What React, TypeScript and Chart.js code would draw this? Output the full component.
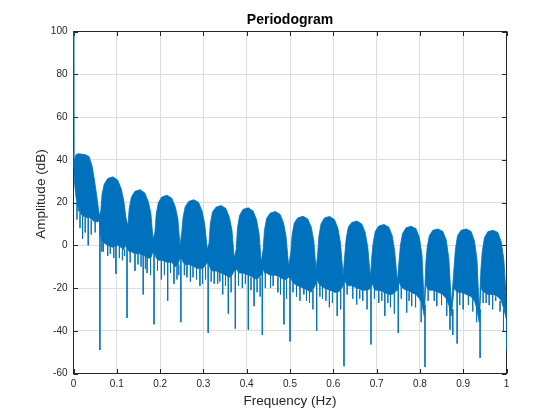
import React, { useEffect, useRef } from "react";
import { Chart, registerables } from "chart.js";

Chart.register(...registerables);

const FONT = '"Liberation Sans", Arial, Helvetica, sans-serif';
const BLUE = "#0072BD";
const AXIS = "#262626";
const GRID = "#dedede";

const chartTitle = "Periodogram";
const xTitle = "Frequency (Hz)";
const yTitle = "Amplitude (dB)";

const xTickValues = [0, 0.1, 0.2, 0.3, 0.4, 0.5, 0.6, 0.7, 0.8, 0.9, 1];
const xTickLabels = ["0", "0.1", "0.2", "0.3", "0.4", "0.5", "0.6", "0.7", "0.8", "0.9", "1"];
const yTickValues = [-60, -40, -20, 0, 20, 40, 60, 80, 100];
const yTickLabels = ["-60", "-40", "-20", "0", "20", "40", "60", "80", "100"];

// Envelope of the periodogram (upper edge and lower body edge)
const freqHz = [
  0, 0.0008, 0.002, 0.006, 0.012, 0.02, 0.028, 0.036, 0.043, 0.048, 0.053, 0.057, 0.0595,
  0.063, 0.066, 0.071, 0.079, 0.091, 0.102, 0.11, 0.116, 0.121,
  0.1256, 0.1286, 0.1336, 0.1416, 0.1536, 0.1646, 0.1726, 0.1786, 0.1836,
  0.188, 0.191, 0.196, 0.204, 0.216, 0.227, 0.235, 0.241, 0.246,
  0.25, 0.253, 0.258, 0.266, 0.278, 0.289, 0.297, 0.303, 0.309,
  0.313, 0.316, 0.321, 0.329, 0.341, 0.352, 0.36, 0.366, 0.371,
  0.3757, 0.3787, 0.3837, 0.3917, 0.4037, 0.4147, 0.4227, 0.4287, 0.4337,
  0.438, 0.441, 0.446, 0.454, 0.466, 0.477, 0.485, 0.491, 0.497,
  0.502, 0.505, 0.51, 0.518, 0.53, 0.541, 0.549, 0.555, 0.56,
  0.5636, 0.5666, 0.5716, 0.5796, 0.5916, 0.6026, 0.6106, 0.6166, 0.6226,
  0.6267, 0.6297, 0.6347, 0.6427, 0.6547, 0.6657, 0.6737, 0.6797, 0.6857,
  0.689, 0.692, 0.697, 0.705, 0.717, 0.728, 0.736, 0.742, 0.748,
  0.752, 0.755, 0.76, 0.768, 0.78, 0.791, 0.799, 0.805, 0.81,
  0.8138, 0.8168, 0.8218, 0.8298, 0.8418, 0.8528, 0.8608, 0.8668, 0.8728,
  0.879, 0.882, 0.887, 0.895, 0.907, 0.918, 0.926, 0.932, 0.937,
  0.941, 0.944, 0.949, 0.957, 0.969, 0.98, 0.988, 0.994, 1.0,
];

const upperDb = [
  100, 36, 40, 42.5, 42.8, 42.6, 42.3, 41.5, 37, 31, 24, 18, 14,
  16, 24, 28.5, 31.2, 32, 30.5, 26.5, 21, 13,
  9, 17, 22.5, 25.2, 26, 24.5, 20.5, 15, 3,
  6, 14.5, 20, 22.6, 23.4, 22, 18, 12.5, 0,
  6, 13, 18, 20.5, 21.3, 20, 16, 10, -2,
  1, 10, 15.5, 17.8, 18.6, 17.2, 13, 7, -6,
  -2, 8, 14, 16.8, 17.5, 16, 12, 5, -8,
  -2, 7, 12.5, 15, 15.8, 14.5, 10.5, 4, -10,
  -3, 5, 10.5, 12.8, 13.6, 12.3, 8.5, 2, -11,
  -5, 4, 10, 12.8, 13.5, 12, 8, 1, -14,
  -4, 3, 8.5, 10.7, 11.3, 10, 6, -1, -15,
  -5, 1, 6.5, 9, 9.7, 8.5, 4.5, -3, -17,
  -7, 0, 5.5, 8.2, 8.9, 7.7, 3.5, -5, -28,
  -8, -1, 4.5, 7, 7.6, 6.5, 2.5, -6, -28,
  -10, -2, 4.5, 7, 7.6, 6.5, 2, -7, -31,
  -11, -3, 3.5, 6.4, 7, 6, 1.5, -7, -27,
];

const lowerDb = [
  35, 35, 30, 22, 16, 14, 13, 13, 12, 11, 11, 11, 12,
  4, 2, 1, 0, -1, 0, -1, -2, 0,
  -2, -3, -3, -4, -4, -5, -6, -6, -3,
  -4, -6, -7, -7, -8, -8, -10, -9, -6,
  -6, -8, -9, -9, -10, -11, -11, -10, -8,
  -9, -11, -12, -12, -13, -14, -15, -14, -12,
  -11, -12, -13, -13, -14, -15, -16, -15, -14,
  -11, -13, -13, -14, -14, -15, -16, -16, -15,
  -15, -17, -18, -19, -20, -21, -22, -20, -18,
  -16, -18, -19, -20, -21, -22, -22, -21, -19,
  -16, -18, -19, -19, -20, -21, -21, -21, -20,
  -18, -19, -21, -21, -22, -23, -23, -22, -21,
  -17, -19, -20, -21, -22, -23, -25, -28, -33,
  -18, -20, -21, -21, -22, -23, -25, -28, -33,
  -20, -21, -22, -22, -23, -24, -26, -30, -36,
  -20, -21, -22, -23, -23, -24, -26, -30, -35,
];

// Deep nulls and long dips
const spikeHz = [
  0.021, 0.034, 0.061, 0.0655, 0.079, 0.098, 0.106, 0.1236,
  0.142, 0.161, 0.17, 0.186, 0.203, 0.2175, 0.232, 0.248,
  0.262, 0.27, 0.292, 0.311, 0.325, 0.3446, 0.3575, 0.3737,
  0.39, 0.4037, 0.417, 0.436, 0.455, 0.472, 0.486, 0.5,
  0.515, 0.532, 0.545, 0.5616, 0.575, 0.591, 0.609, 0.6247,
  0.654, 0.668, 0.687, 0.705, 0.719, 0.732, 0.75,
  0.7695, 0.781, 0.8118, 0.839, 0.8695, 0.876, 0.886, 0.9, 0.939,
  0.96, 0.975, 1.0,
];
const spikeTopDb = [
  16, 14, 14, 4, 0, 0, 0, 3,
  -4, -4, -5, 0, -7, -8, -9, -2,
  -9, -9, -11, -5, -12, -13, -14, -8,
  -13, -14, -15, -10, -14, -15, -16, -12,
  -18, -20, -21, -14, -19, -21, -22, -15,
  -20, -21, -17, -21, -22, -23, -18,
  -21, -22, -28, -22, -28, -30, -21, -22, -30,
  -23, -24, -27,
];
const spikeBottomDb = [
  3, 0, -49, -3, -5, -13.4, -6, -34,
  -12, -23, -13, -37, -16, -26, -18, -36,
  -15, -17, -19, -41, -18, -23, -32, -39,
  -20, -39.5, -28.5, -42, -20, -22, -37, -45,
  -24, -23, -27, -40, -25, -29, -33, -56.6,
  -27.7, -26, -46.4, -27, -33, -29, -41,
  -31.5, -28.5, -57, -28.5, -39.5, -42, -46, -30, -52.7,
  -28, -26, -49,
];

// Short dips hanging below the body of each lobe
const dipHz = [
  0.008, 0.015, 0.027, 0.041, 0.05,
  0.069, 0.085, 0.093, 0.113, 0.118,
  0.131, 0.149, 0.156, 0.166, 0.178,
  0.194, 0.21, 0.224, 0.239, 0.243,
  0.256, 0.276, 0.284, 0.298, 0.305,
  0.318, 0.333, 0.338, 0.351, 0.364,
  0.381, 0.397, 0.41, 0.424, 0.431,
  0.443, 0.461, 0.478, 0.492,
  0.507, 0.523, 0.538, 0.553,
  0.569, 0.583, 0.598, 0.617,
  0.632, 0.645, 0.661, 0.678,
  0.695, 0.712, 0.726, 0.741,
  0.757, 0.775, 0.79, 0.803,
  0.819, 0.833, 0.85, 0.862,
  0.892, 0.912, 0.922, 0.931,
  0.946, 0.953, 0.968, 0.985, 0.993,
];
const dipTopDb = [
  20, 15, 13, 12, 11,
  2, 0, -1, -1, -2,
  -3, -4, -4, -5, -6,
  -6, -7, -8, -9, -9,
  -8, -10, -10, -11, -10,
  -11, -12, -12, -14, -14,
  -12, -13, -15, -16, -15,
  -13, -14, -15, -16,
  -17, -19, -21, -21,
  -18, -20, -22, -21,
  -18, -19, -21, -21,
  -19, -22, -23, -22,
  -19, -22, -23, -27,
  -20, -21, -23, -25,
  -22, -23, -25, -29,
  -21, -22, -23, -26, -30,
];
const dipBottomDb = [
  12, 8, 6, 5, 6,
  -3, -4, -6, -7, -5,
  -8, -9, -10, -11, -14,
  -12, -14, -13, -16, -14,
  -14, -15, -16, -18, -16,
  -17, -18, -17, -19, -22,
  -19, -18, -21, -22, -24,
  -20, -19, -23, -25,
  -22, -26, -26, -30,
  -24, -26, -27, -30,
  -23, -25, -25, -30,
  -25, -26, -27, -32,
  -25, -26, -29, -36,
  -26, -26, -28, -33,
  -28, -28, -31, -36,
  -27, -27, -30, -31, -40,
];

function segments(xs: number[], tops: number[], bottoms: number[]) {
  const out: { x: number; y: number | null }[] = [];
  xs.forEach((f, i) => {
    out.push({ x: f, y: tops[i] }, { x: f, y: bottoms[i] }, { x: f, y: null });
  });
  return out;
}

export default function App() {
  const ref = useRef<HTMLCanvasElement>(null);

  useEffect(() => {
    document.body.style.margin = "0";
    const canvas = ref.current;
    if (!canvas) return;

    const topLine = freqHz.map((f, i) => ({ x: f, y: upperDb[i] }));
    const bottomLine = freqHz.map((f, i) => ({ x: f, y: lowerDb[i] }));
    const spikes = segments(spikeHz, spikeTopDb, spikeBottomDb);
    const dips = segments(dipHz, dipTopDb, dipBottomDb);

    const frame = {
      id: "frame",
      beforeDatasetsDraw(chart: any) {
        const { ctx, chartArea: a, scales } = chart;
        ctx.save();
        ctx.strokeStyle = AXIS;
        ctx.lineWidth = 1;
        ctx.strokeRect(a.left, a.top, a.right - a.left, a.bottom - a.top);
        const tl = 4.5;
        ctx.beginPath();
        xTickValues.forEach((v) => {
          const px = Math.round(scales.x.getPixelForValue(v)) + 0.5;
          ctx.moveTo(px, a.bottom);
          ctx.lineTo(px, a.bottom - tl);
          ctx.moveTo(px, a.top);
          ctx.lineTo(px, a.top + tl);
        });
        yTickValues.forEach((v) => {
          const py = Math.round(scales.y.getPixelForValue(v)) + 0.5;
          ctx.moveTo(a.left, py);
          ctx.lineTo(a.left + tl, py);
          ctx.moveTo(a.right, py);
          ctx.lineTo(a.right - tl, py);
        });
        ctx.stroke();
        ctx.restore();
      },
      afterDraw(chart: any) {
        const { ctx, chartArea: a } = chart;
        const cx = (a.left + a.right) / 2;
        ctx.save();
        ctx.textAlign = "center";
        ctx.textBaseline = "middle";
        ctx.fillStyle = "#000";
        ctx.font = `bold 14px ${FONT}`;
        ctx.fillText(chartTitle, cx, 20);
        ctx.fillStyle = AXIS;
        ctx.font = `13.5px ${FONT}`;
        ctx.fillText(xTitle, cx, 401.5);
        ctx.translate(41.5, 194);
        ctx.rotate(-Math.PI / 2);
        ctx.fillText(yTitle, 0, 0);
        ctx.restore();
      },
    };

    const chart = new Chart(canvas, {
      type: "line",
      data: {
        datasets: [
          {
            data: topLine,
            borderColor: BLUE,
            backgroundColor: BLUE,
            borderWidth: 0.8,
            fill: "+1",
            pointRadius: 0,
            tension: 0,
          },
          {
            data: bottomLine,
            borderColor: BLUE,
            backgroundColor: BLUE,
            borderWidth: 0.8,
            fill: false,
            pointRadius: 0,
            tension: 0,
          },
          {
            data: spikes as any,
            borderColor: BLUE,
            borderWidth: 0.9,
            fill: false,
            pointRadius: 0,
            spanGaps: false,
            tension: 0,
          },
          {
            data: dips as any,
            borderColor: BLUE,
            borderWidth: 0.8,
            fill: false,
            pointRadius: 0,
            spanGaps: false,
            tension: 0,
          },
        ],
      },
      options: {
        responsive: false,
        animation: false,
        devicePixelRatio: 1,
        layout: { padding: { top: 31.5, right: 53.5, left: 0, bottom: 0 } },
        plugins: {
          legend: { display: false },
          tooltip: { enabled: false },
          title: { display: false },
        },
        scales: {
          x: {
            type: "linear",
            min: 0,
            max: 1,
            afterFit: (s: any) => {
              s.height = 46.5;
            },
            afterBuildTicks: (s: any) => {
              s.ticks = xTickValues.map((v) => ({ value: v }));
            },
            ticks: {
              autoSkip: false,
              maxRotation: 0,
              padding: 5,
              color: AXIS,
              font: { family: FONT, size: 10 },
              callback: (v: any) => xTickLabels[xTickValues.indexOf(Math.round(Number(v) * 10) / 10)],
            },
            grid: { color: GRID, drawTicks: false, lineWidth: 1 },
            border: { display: false },
          },
          y: {
            type: "linear",
            min: -60,
            max: 100,
            afterFit: (s: any) => {
              s.width = 73.5;
            },
            afterBuildTicks: (s: any) => {
              s.ticks = yTickValues.map((v) => ({ value: v }));
            },
            ticks: {
              padding: 6,
              color: AXIS,
              font: { family: FONT, size: 10 },
              callback: (v: any) => yTickLabels[yTickValues.indexOf(Number(v))],
            },
            grid: { color: GRID, drawTicks: false, lineWidth: 1 },
            border: { display: false },
          },
        },
      },
      plugins: [frame],
    });

    return () => chart.destroy();
  }, []);

  return (
    <div style={{ position: "absolute", left: 0, top: 0, width: 560, height: 420, background: "#fff" }}>
      <canvas ref={ref} width={560} height={420} style={{ display: "block", width: 560, height: 420 }} />
    </div>
  );
}
